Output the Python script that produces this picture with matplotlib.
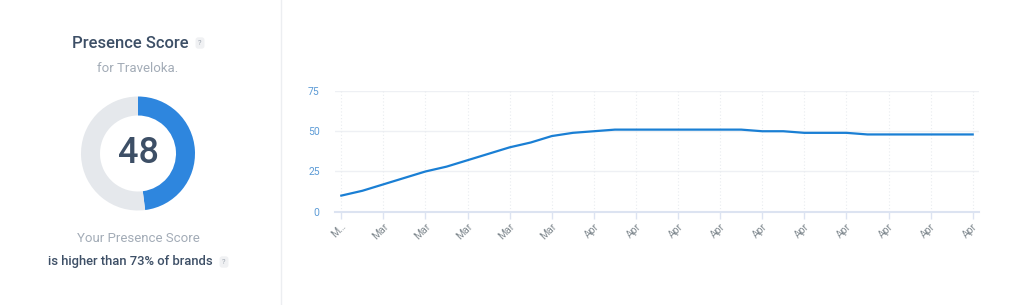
import matplotlib
matplotlib.use("Agg")
import matplotlib.pyplot as plt
import numpy as np

plt.rcParams['font.family'] = ['Roboto', 'DejaVu Sans']

# Datos
score = 48
brand = "Traveloka"
percentil = 73
valores = [10, 13, 17, 21, 25, 28, 32, 36, 40, 43, 47, 49, 50, 51, 51,
           51, 51, 51, 51, 51, 50, 50, 49, 49, 49, 48, 48, 48, 48, 48, 48]
etiquetas_x = ["M…", "Mar", "Mar", "Mar", "Mar", "Mar", "Apr", "Apr",
               "Apr", "Apr", "Apr", "Apr", "Apr", "Apr", "Apr", "Apr"]
ticks_y = [0, 25, 50, 75]

AZUL = "#2e86de"
GRIS_ANILLO = "#e5e8ec"
OSCURO = "#3d4f66"
GRIS_TXT = "#a3acb7"

W, H = 1021, 305
fig = plt.figure(figsize=(W / 100, H / 100), dpi=100)

# Linea divisoria
fig.add_artist(plt.Line2D([281 / W, 281 / W], [0, 1], color="#eceef1", lw=1))

# Textos del panel izquierdo
fig.text(130 / W, 1 - 43 / H, "Presence Score", ha="center", va="center",
         fontsize=12, color=OSCURO, fontweight="medium")
fig.text(200 / W, 1 - 43 / H, "?", ha="center", va="center", fontsize=5.5,
         color="#9ea6b0", bbox=dict(boxstyle="round,pad=0.35", fc="#f0f1f3", ec="none"))
fig.text(138 / W, 1 - 69 / H, f"for {brand}.", ha="center", va="center",
         fontsize=9.5, color=GRIS_TXT)
fig.text(138 / W, 1 - 239 / H, "Your Presence Score", ha="center", va="center",
         fontsize=9.5, color=GRIS_TXT)
fig.text(130.5 / W, 1 - 262 / H, f"is higher than {percentil}% of brands", ha="center",
         va="center", fontsize=9.4, color=OSCURO, fontweight="medium")
fig.text(224 / W, 1 - 262 / H, "?", ha="center", va="center", fontsize=5.5,
         color="#9ea6b0", bbox=dict(boxstyle="round,pad=0.35", fc="#f0f1f3", ec="none"))

# Dona
cx, cy, r = 138, 153.5, 60
axd = fig.add_axes([(cx - r) / W, (H - cy - r) / H, 2 * r / W, 2 * r / H])
axd.pie([score, 100 - score], colors=[AZUL, GRIS_ANILLO], startangle=90,
        counterclock=False, radius=57, wedgeprops=dict(width=19, linewidth=0))
axd.set_xlim(-r, r)
axd.set_ylim(-r, r)
axd.set_aspect("equal")
axd.axis("off")
axd.text(0, 0, str(score), ha="center", va="center", fontsize=26, color=OSCURO,
         fontweight="medium")

# Grafico de linea
ax = fig.add_axes([335 / W, 1 - 211.7 / H, (979 - 335) / W, (211.7 - 91) / H])
x = np.arange(len(valores))
ax.plot(x, valores, color="#1a7fd4", lw=1.6)
ax.set_xlim(-0.3, len(valores) - 1 + 0.3)
ax.set_ylim(0, 75)
ax.set_yticks(ticks_y)
ax.set_yticklabels([str(t) for t in ticks_y])
ax.set_xticks(x[::2])
ax.set_xticklabels(etiquetas_x, rotation=45, ha="right", rotation_mode="anchor")

for yv in ticks_y[1:]:
    ax.axhline(yv, color="#eef0f4", lw=1, zorder=0)
for xv in x[::2]:
    ax.axvline(xv, color="#e9ecf0", lw=0.8, ls=(0, (1, 2)), zorder=0)

for s in ["top", "right", "left"]:
    ax.spines[s].set_visible(False)
ax.spines["bottom"].set_color("#dce3f1")
ax.spines["bottom"].set_linewidth(1.5)
ax.tick_params(axis="y", length=0, pad=11, labelsize=7.5, labelcolor="#5c9bd6")
ax.tick_params(axis="x", length=5, color="#dce3f1", width=1, labelsize=7.5,
               labelcolor="#80898f", pad=2)

fig.savefig("out.png", dpi=100, facecolor="white")
